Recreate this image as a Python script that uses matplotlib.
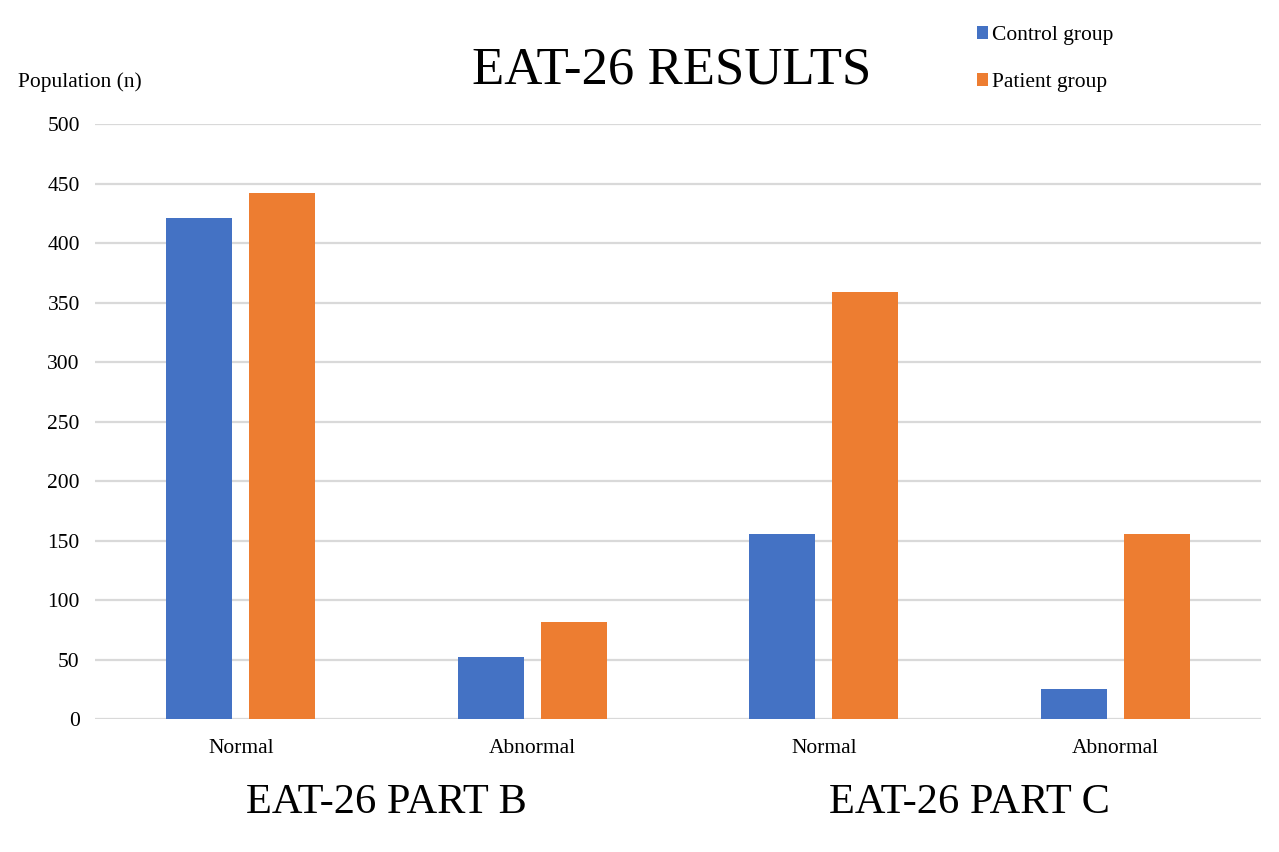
import matplotlib
matplotlib.use("Agg")
import matplotlib.pyplot as plt
import numpy as np

categories = ["Normal", "Abnormal", "Normal", "Abnormal"]
parts = ["EAT-26 PART B", "EAT-26 PART C"]
control = [421, 52, 156, 25]
patient = [442, 82, 359, 156]
series_names = ["Control group", "Patient group"]
yticks = [0, 50, 100, 150, 200, 250, 300, 350, 400, 450, 500]

plt.rcParams['font.family'] = ['Liberation Serif', 'DejaVu Serif']

fig = plt.figure(figsize=(12.79, 8.52), dpi=100)
ax = fig.add_axes([0.0743, 0.156, 0.9117, 0.698])

x = np.arange(len(categories))
w = 0.226
off = 0.142
blue = "#4472C4"
orange = "#ED7D31"
b1 = ax.bar(x - off, control, w, color=blue, label=series_names[0], zorder=3)
b2 = ax.bar(x + off, patient, w, color=orange, label=series_names[1], zorder=3)

ax.set_xlim(-0.5, len(categories) - 0.5)
ax.set_ylim(0, 500)
ax.set_yticks(yticks)
ax.set_xticks(x)
ax.set_xticklabels(categories, fontsize=15.5)
ax.tick_params(axis='y', labelsize=15.5, length=0, pad=11)
ax.tick_params(axis='x', length=0, pad=14)
ax.grid(axis='y', color='#d9d9d9', linewidth=1.6, zorder=0)
for s in ax.spines.values():
    s.set_visible(False)

# group labels
for i, p in enumerate(parts):
    cx = (x[2 * i] + x[2 * i + 1]) / 2
    ax.text(cx, -0.14, p, transform=ax.get_xaxis_transform(), ha='center', va='center',
            fontsize=30.5)

fig.text(672 / 1279, 1 - 70 / 852, "EAT-26 RESULTS", ha='center', va='center', fontsize=38)
fig.text(18 / 1279, 1 - 82 / 852, "Population (n)", ha='left', va='center', fontsize=15.5)

fig.legend(handles=[b1, b2], labels=series_names, loc='upper left',
           bbox_to_anchor=(968 / 1279, 1 - 17 / 852), frameon=False, fontsize=15.5,
           handlelength=0.55, handleheight=0.55, handletextpad=0.15, labelspacing=1.3,
           borderaxespad=0)

fig.savefig("out.png", dpi=100)
